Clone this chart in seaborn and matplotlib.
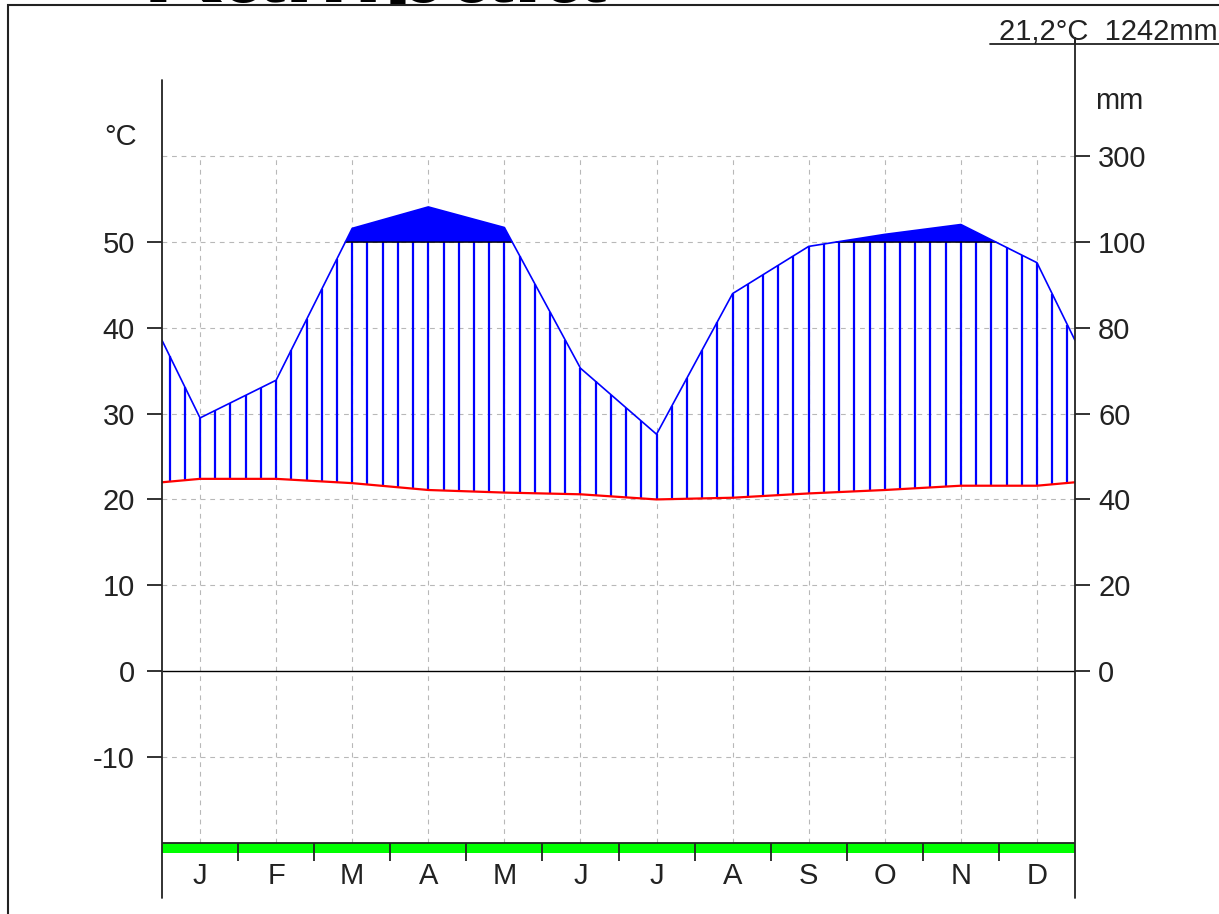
import numpy as np
import pandas as pd
import matplotlib
matplotlib.use("Agg")
import matplotlib.pyplot as plt
from matplotlib.patches import Rectangle
from matplotlib.lines import Line2D
from matplotlib.transforms import Bbox, TransformedBbox
import seaborn as sns

# ---------------- data ----------------
months = ["J", "F", "M", "A", "M", "J", "J", "A", "S", "O", "N", "D"]
temp_c = [22.4, 22.4, 21.9, 21.1, 20.8, 20.6, 20.0, 20.2, 20.7, 21.1, 21.6, 21.6]
precip_mm = [59, 67.8, 132, 182, 134, 70.6, 55.2, 88, 99, 118, 141, 95.2]
temp_ticks = [-10, 0, 10, 20, 30, 40, 50]
mm_tick_pos = [0, 10, 20, 30, 40, 50, 60]
mm_tick_labels = ["0", "20", "40", "60", "80", "100", "300"]
summary_text = "21,2°C  1242mm"
title_text = "Kampala"

# ---------------- style ----------------
sns.set_theme(style="white")
plt.rcParams["font.family"] = ["Liberation Sans", "DejaVu Sans"]

W, H = 1219, 914
fig = plt.figure(figsize=(W / 100, H / 100), dpi=100)
fig.patch.set_facecolor("white")

px_left, px_right, px_top, px_bot = 162, 1075, 38, 898
ax = fig.add_axes([px_left / W, (H - px_bot) / H, (px_right - px_left) / W, (px_bot - px_top) / H])
scale = 8.578
y_top = (671 - px_top) / scale
y_bot = -(px_bot - 671) / scale
ax.set_xlim(0, 12)
ax.set_ylim(y_bot, y_top)
for s in ax.spines.values():
    s.set_visible(False)
ax.set_facecolor("none")


def to_disp(p):
    p = np.asarray(p, dtype=float)
    return np.where(p <= 100, p / 2.0, 50 + (p - 100) / 20.0)


t = np.array(temp_c)
pdisp = to_disp(precip_mm)
centers = np.arange(12) + 0.5
x_ext = np.concatenate([[0], centers, [12]])
t_edge = (t[0] + t[-1]) / 2
p_edge = (pdisp[0] + pdisp[-1]) / 2
t_ext = np.concatenate([[t_edge], t, [t_edge]])
p_ext = np.concatenate([[p_edge], pdisp, [p_edge]])

grid_c = "#b8b8b8"
dash = (0, (4.3, 4.3))
# horizontal grid
ax.hlines([-10, 10, 20, 30, 40, 50, 60], 0, 12, colors=grid_c, linestyles=dash, lw=0.8, zorder=1)
# vertical grid at month centers
ax.vlines(centers, -20.05, 60, colors=grid_c, linestyles=dash, lw=0.8, zorder=1)
# zero line
ax.hlines(0, 0, 12, colors="black", lw=1.0, zorder=2)

# humid hatch lines
xs = np.arange(60) * 0.2 + 0.1
tt = np.interp(xs, x_ext, t_ext)
pp = np.interp(xs, x_ext, p_ext)
m = pp > tt
ax.vlines(xs[m], tt[m], np.minimum(pp[m], 50), colors="#0000ff", lw=1.6, zorder=3)

# perhumid fill above 100 mm
xd = np.linspace(0, 12, 2401)
pdd = np.interp(xd, x_ext, p_ext)
ax.fill_between(xd, 50, pdd, where=pdd > 50, interpolate=True, color="#0000ff", lw=0, zorder=3)
ax.plot(xd, np.where(pdd > 50, 50, np.nan), color="black", lw=1.0, zorder=4)

# curves
df = pd.DataFrame({"x": x_ext, "temp": t_ext, "prec": p_ext})
sns.lineplot(data=df, x="x", y="prec", color="#0000ff", lw=1.2, ax=ax, estimator=None, zorder=5)
sns.lineplot(data=df, x="x", y="temp", color="#ff0000", lw=1.6, ax=ax, estimator=None, zorder=6)
ax.set_xlabel("")
ax.set_ylabel("")

# green bar + month separators
ax.fill_between([0, 12], -21.2, -20.05, color="#00ff00", lw=0, zorder=2)
ax.hlines(-20.05, 0, 12, colors="#222222", lw=1.3, zorder=3)
ax.vlines(np.arange(1, 12), -22.1, -20.05, colors="#222222", lw=1.3, zorder=3)

# axes lines
ax.plot([0, 0], [y_bot, 68.9], color="#222222", lw=1.3, clip_on=False, zorder=7)
ax.plot([12, 12], [y_bot, y_top], color="#222222", lw=1.3, clip_on=False, zorder=7)

# left ticks
ax.set_xticks([])
ax.set_yticks(temp_ticks)
ax.set_yticklabels([str(v) for v in temp_ticks])
ax.tick_params(axis="y", left=True, right=False, length=10.8, width=1.3, color="#222222",
               direction="out", labelsize=21, pad=8.6, labelcolor="#222222")

# right ticks (mm)
ax2 = ax.twinx()
ax2.set_ylim(y_bot, y_top)
for s in ax2.spines.values():
    s.set_visible(False)
ax2.set_yticks(mm_tick_pos)
ax2.set_yticklabels(mm_tick_labels)
ax2.tick_params(axis="y", right=True, left=False, length=10.8, width=1.3, color="#222222",
                direction="out", labelsize=21, pad=5.8, labelcolor="#222222")
ax2.grid(False)
ax.grid(False)

# month labels
for xc, lab in zip(centers, months):
    ax.text(xc, -23.9, lab, ha="center", va="center", fontsize=21, color="#222222")

# unit labels
ax.text(-0.33, 62.2, "°C", ha="right", va="center", fontsize=21, color="#222222", clip_on=False)
ax.text(12.26, 66.5, "mm", ha="left", va="center", fontsize=21, color="#222222", clip_on=False)

# summary text with underline
fig.text(1218 / W, (H - 40) / H, summary_text, ha="right", va="baseline", fontsize=21, color="#222222")
fig.add_artist(Line2D([990 / W, 1.0], [(H - 44) / H, (H - 44) / H], transform=fig.transFigure,
                      color="#222222", lw=1.3))
# right axis up to underline
fig.add_artist(Line2D([px_right / W, px_right / W], [(H - 44) / H, (H - px_top) / H],
                      transform=fig.transFigure, color="#222222", lw=1.3))

# frame
fig.add_artist(Rectangle((8 / W, -0.1), 1.2, (H - 5) / H + 0.1, transform=fig.transFigure,
                         fill=False, edgecolor="#222222", lw=1.5, clip_on=False))

# clipped title (only the bottom strip is visible, as in the reference)
tt_txt = fig.text(143 / W, (H - 2) / H, title_text, ha="left", va="baseline", fontsize=80,
                  fontweight="bold", color="black")
tt_txt.set_clip_box(TransformedBbox(Bbox([[0, (H - 4) / H], [1, 1]]), fig.transFigure))
tt_txt.set_clip_on(True)

fig.savefig("out.png", dpi=100, facecolor="white")
